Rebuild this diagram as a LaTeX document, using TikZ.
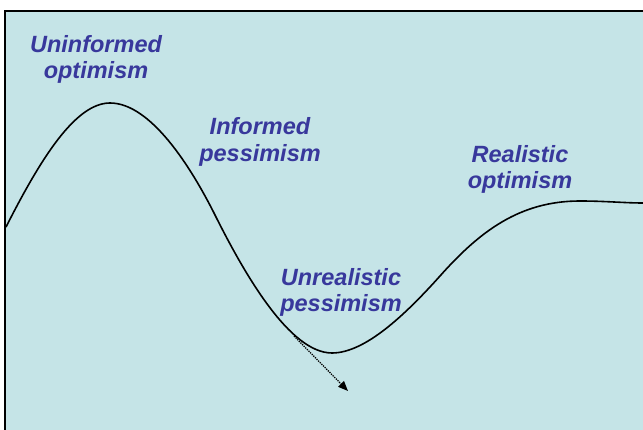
\documentclass[tikz,border=0pt]{standalone}
\usepackage{fontspec}
\setmainfont{Liberation Sans}
\usetikzlibrary{arrows.meta}
\definecolor{bgblue}{RGB}{197,228,231}
\definecolor{labelblue}{RGB}{56,56,156}
\tikzset{
  lbl/.style={anchor=base, inner sep=0pt, text=labelblue,
    font=\fontsize{23.5}{26}\selectfont\bfseries\itshape},
  curve/.style={line width=1.6pt, black},
  hint/.style={line width=1.3pt, densely dotted, -{Triangle[length=10pt,width=8pt]}},
  frame/.style={line width=2pt, black}
}
\begin{document}
\begin{tikzpicture}[x=1pt,y=-1pt]
\useasboundingbox (0,0) rectangle (643,430);
\fill[white] (0,0) rectangle (643,430);
\fill[bgblue] (5,11) rectangle (643,430);
\draw[frame] (5,430) -- (5,11) -- (643,11);

% the curve
\draw[curve] (6,227) .. controls (40,160) and (75,103) .. (110,103)
  .. controls (150,103) and (190,165) .. (215,215)
  .. controls (245,275) and (290,353) .. (332,353)
  .. controls (365,353) and (405,315) .. (440,276)
  .. controls (480,231) and (520,201) .. (580,201)
  .. controls (605,201) and (625,203) .. (643,203);

% labels
\node[lbl] (uo1) at (96,53) {Uninformed};
\node[lbl] (uo2) at (96,79) {optimism};
\node[lbl] (ip1) at (260,135) {Informed};
\node[lbl] (ip2) at (260,162) {pessimism};
\node[lbl] (up1) at (341,286) {Unrealistic};
\node[lbl] (up2) at (341,312) {pessimism};
\node[lbl] (ro1) at (520,163) {Realistic};
\node[lbl] (ro2) at (520,189) {optimism};

% dotted arrow
\coordinate (a1) at (294,336);
\coordinate (a2) at (348,391);
\draw[hint] (a1) -- (a2);
\end{tikzpicture}
\end{document}
